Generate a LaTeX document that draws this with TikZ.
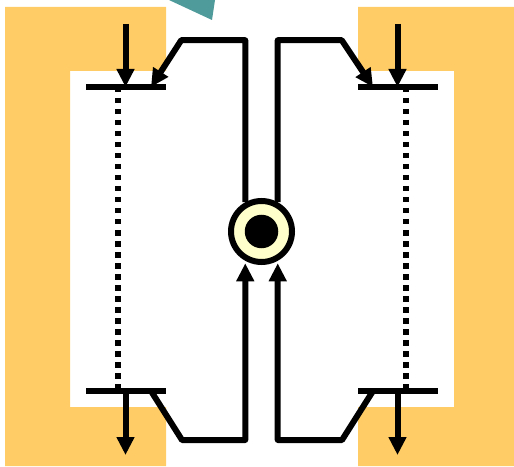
\documentclass[tikz,border=0pt]{standalone}
\usepackage{xcolor}
\usetikzlibrary{arrows.meta, calc}
\definecolor{coilorange}{HTML}{FFCC66}
\definecolor{tealwedge}{HTML}{4F9A9A}
\definecolor{ringfill}{HTML}{FFFFCC}
\tikzset{
  core/.style={fill=coilorange, draw=none},
  bar/.style={line width=0.12cm},
  flow/.style={line width=0.12cm, line join=round, -{Triangle[length=0.36cm,width=0.34cm]}},
  gap/.style={line width=0.12cm, dash pattern=on 0.11cm off 0.11cm}
}
\begin{document}
\begin{tikzpicture}
  \useasboundingbox (0,0) rectangle (10.28,9.32);

  % Orange yokes
  \fill[core] (0.1,9.18) -- (3.32,9.18) -- (3.32,7.9) -- (1.4,7.9) -- (1.4,1.18)
    -- (3.32,1.18) -- (3.32,0) -- (0.1,0) -- cycle;
  \fill[core] (7.16,9.18) -- (10.28,9.18) -- (10.28,0) -- (7.16,0) -- (7.16,1.18)
    -- (9.08,1.18) -- (9.08,7.9) -- (7.16,7.9) -- cycle;

  % Teal wedge at the top edge
  \fill[tealwedge] (3.38,9.32) -- (4.3,9.32) -- (4.24,8.92) -- cycle;

  % Bar ends and wire corners
  \foreach \name/\x/\y in {
    tla/1.72/7.58, tlb/3.32/7.58, tra/7.16/7.58, trb/8.76/7.58,
    bla/1.72/1.5, blb/3.32/1.5, bra/7.16/1.5, brb/8.76/1.5,
    tlin/2.51/8.84, trin/7.95/8.84, tlhit/2.51/7.58, trhit/7.95/7.58,
    blout/2.51/0.22, brout/7.95/0.22, blhit/2.51/1.5, brhit/7.95/1.5,
    dtl/2.36/7.58, dbl/2.36/1.5, dtr/8.11/7.58, dbr/8.11/1.5,
    wtl/3.02/7.58, wbl/3.02/1.5, wtr/7.46/7.58, wbr/7.46/1.5}{
    \coordinate (\name) at (\x,\y);
  }

  % Dotted links
  \draw[gap] (dtl) -- (dbl);
  \draw[gap] (dtr) -- (dbr);

  % Bars
  \foreach \a/\b in {tla/tlb, tra/trb, bla/blb, bra/brb}{
    \draw[bar] (\a) -- (\b);
  }

  % Outer arrows
  \foreach \a/\b in {tlin/tlhit, trin/trhit, blhit/blout, brhit/brout}{
    \draw[flow] (\a) -- (\b);
  }

  % Centre ring
  \node[circle, draw, line width=0.12cm, fill=ringfill, minimum size=1.22cm, inner sep=0pt] (ring) at (5.23,4.69) {};
  \node[circle, fill=black, minimum size=0.67cm, inner sep=0pt] (eye) at (ring.center) {};

  % Wires round the ring
  \draw[flow] (ring.119) |- ++(-1.28,3.24) -- (wtl);
  \draw[flow] (ring.61) |- ++(1.28,3.24) -- (wtr);
  \draw[flow, shorten >=0.05cm] (wbl) -- ++(0.62,-0.98) -| (ring.241);
  \draw[flow, shorten >=0.05cm] (wbr) -- ++(-0.62,-0.98) -| (ring.299);

\end{tikzpicture}
\end{document}
